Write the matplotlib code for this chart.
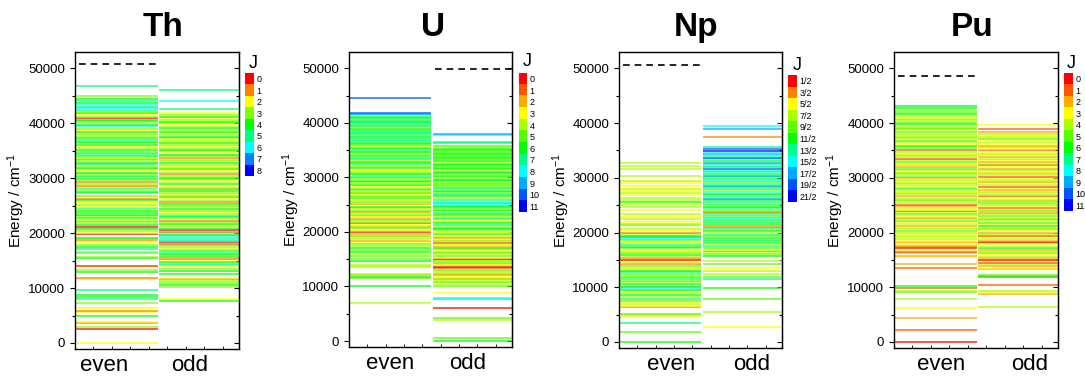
import numpy as np
import matplotlib
matplotlib.use("Agg")
import matplotlib.pyplot as plt
from matplotlib.colors import ListedColormap
from matplotlib.ticker import MultipleLocator

plt.rcParams['font.family'] = ['Liberation Sans', 'DejaVu Sans']
plt.rcParams['mathtext.fontset'] = 'custom'
plt.rcParams['mathtext.rm'] = 'Liberation Sans'
plt.rcParams['mathtext.it'] = 'Liberation Sans:italic'

# ---- level data: (energy in cm^-1, J) ----
th_even = [(0, 2), (2558, 0), (2869, 3), (3688, 1), (3865, 2), (4962, 4), (5563, 2), (5760, 1),
           (6362, 2), (7281, 3), (8080, 5), (8460, 4), (8800, 4), (9720, 5), (11600, 2), (11800, 1),
           (12850, 4), (13250, 3), (13950, 0), (14100, 1), (15440, 4), (15700, 3), (16350, 6),
           (16600, 3), (17150, 5), (17450, 4), (17900, 3), (18450, 2), (18700, 1), (19000, 3),
           (19200, 4), (19800, 0), (20000, 2), (20350, 3), (20700, 4), (21150, 0), (21500, 4),
           (21900, 3), (22200, 5), (22450, 2), (22750, 4), (23050, 3), (23350, 4), (23650, 4),
           (23950, 4), (24250, 3), (24500, 5), (24850, 2), (25150, 3), (25450, 2), (25750, 2),
           (26000, 4), (26250, 1), (26550, 2), (26850, 3), (27250, 6), (27550, 4), (27850, 3),
           (28150, 5), (28450, 2), (28650, 1), (28950, 3), (29250, 1), (29550, 3), (29850, 4),
           (30150, 3), (30450, 5), (30750, 3), (31050, 4), (31350, 2), (31650, 3), (31950, 4),
           (32250, 3), (32550, 5), (32850, 4), (33150, 3), (33450, 4), (33750, 2), (34050, 4),
           (34350, 5), (34600, 6), (34850, 3), (35150, 4), (35450, 3), (35750, 2), (36050, 4),
           (36350, 3), (36650, 4), (36950, 5), (37250, 4), (37550, 3), (37850, 2), (38150, 3),
           (38450, 4), (38750, 2), (39050, 3), (39450, 6), (39750, 4), (40050, 3), (40350, 5),
           (40650, 4), (40980, 0), (41250, 3), (41550, 2), (41850, 4), (42150, 3), (42450, 5),
           (42750, 6), (43050, 5), (43350, 6), (43650, 4), (44000, 5), (44350, 4), (44900, 3),
           (46850, 5)]
th_odd = [(7660, 4), (8090, 2), (10270, 3), (10500, 4), (10880, 3), (11200, 3), (11600, 1),
          (11800, 2), (12500, 4), (13130, 4), (13500, 3), (13950, 2), (14200, 3), (14410, 6),
          (14800, 4), (15150, 2), (15300, 1), (15600, 4), (16000, 3), (16250, 4), (16600, 5),
          (16950, 4), (17200, 2), (17500, 3), (17850, 5), (18100, 1), (18350, 0), (18600, 3),
          (18800, 6), (19100, 5), (19400, 6), (19700, 4), (20000, 6), (20300, 1), (20550, 0),
          (20800, 4), (21100, 3), (21400, 2), (21700, 4), (22000, 3), (22300, 1), (22600, 3),
          (22900, 4), (23200, 5), (23500, 3), (23800, 2), (24100, 3), (24400, 4), (24700, 2),
          (25000, 3), (25300, 4), (25600, 1), (25900, 3), (26200, 2), (26500, 4), (26800, 3),
          (27100, 2), (27400, 3), (27700, 4), (28000, 1), (28300, 3), (28600, 2), (28900, 4),
          (29200, 3), (29500, 2), (29800, 3), (30100, 4), (30400, 3), (30700, 1), (31000, 3),
          (31300, 2), (31600, 4), (31900, 3), (32200, 2), (32500, 3), (32800, 4), (33100, 2),
          (33400, 3), (33700, 1), (34000, 3), (34300, 4), (34600, 2), (34900, 3), (35200, 4),
          (35500, 3), (35800, 2), (36100, 3), (36400, 4), (36700, 3), (37000, 2), (37300, 3),
          (37600, 4), (37900, 3), (38200, 2), (38500, 4), (38800, 3), (39100, 4), (39400, 3),
          (39700, 2), (40000, 3), (40300, 4), (40600, 3), (40900, 2), (41200, 4), (41500, 3),
          (41800, 2), (42600, 5), (44100, 6), (46000, 5)]

u_even = [(7020, 4), (10010, 6), (11480, 5), (11750, 6), (12030, 2), (12300, 4), (13500, 4),
          (13700, 4), (13950, 4), (14750, 6), (15100, 5), (15600, 5), (15900, 4), (16250, 6),
          (16600, 5), (17100, 6), (17400, 4), (17800, 5), (18150, 3), (18400, 2), (18700, 4),
          (19000, 3), (19300, 5), (19600, 2), (19900, 0), (20150, 4), (20400, 3), (20650, 5),
          (20900, 2), (21150, 4), (21400, 3), (21650, 1), (21900, 4), (22150, 5), (22400, 2),
          (22650, 4), (22900, 3), (23150, 5), (23400, 4), (23650, 2), (23900, 5), (24150, 3),
          (24400, 4), (24650, 6), (24900, 3), (25150, 2), (25400, 5), (25650, 4), (25900, 3),
          (26150, 6), (26400, 4), (26650, 5), (26900, 3), (27150, 6), (27400, 4), (27650, 5),
          (27900, 7), (28150, 4), (28400, 3), (28650, 6), (28900, 5), (29150, 4), (29400, 6),
          (29650, 3), (29900, 5), (30150, 7), (30400, 4), (30650, 6), (30900, 5), (31150, 4),
          (31400, 3), (31650, 6), (31900, 5), (32150, 4), (32400, 7), (32650, 5), (32900, 6),
          (33150, 4), (33400, 5), (33650, 7), (33900, 6), (34150, 5), (34400, 4), (34650, 6),
          (34900, 7), (35150, 5), (35400, 6), (35650, 4), (35900, 7), (36150, 5), (36400, 6),
          (36650, 8), (36900, 7), (37150, 6), (37400, 5), (37650, 7), (37900, 6), (38150, 8),
          (38400, 7), (38650, 6), (38900, 7), (39150, 5), (39400, 6), (39650, 7), (39900, 6),
          (40150, 7), (40400, 6), (40650, 5), (40900, 7), (41150, 6), (41400, 8), (41650, 9),
          (41900, 10), (44570, 10)]
u_odd = [(0, 6), (620, 5), (3870, 4), (4280, 5), (5990, 0), (7700, 7), (7940, 8), (8850, 3),
         (10100, 5), (10350, 4), (10600, 3), (10850, 5), (11100, 4), (11350, 2), (11600, 4),
         (11850, 3), (12100, 5), (12350, 2), (12600, 4), (12850, 3), (13100, 5), (13350, 1),
         (13600, 0), (13850, 4), (14100, 3), (14350, 5), (14600, 2), (14850, 4), (15050, 0),
         (15300, 3), (15550, 5), (15800, 4), (16050, 2), (16300, 5), (16550, 3), (16800, 4),
         (17050, 6), (17300, 2), (17550, 4), (17800, 3), (18050, 1), (18300, 5), (18550, 4),
         (18800, 2), (19050, 5), (19300, 3), (19550, 6), (19800, 4), (20050, 3), (20300, 5),
         (20550, 7), (20800, 6), (21050, 4), (21300, 7), (21550, 5), (21800, 6), (22050, 3),
         (22300, 5), (22550, 7), (22800, 4), (23050, 6), (23300, 5), (23550, 7), (23800, 4),
         (24050, 6), (24300, 5), (24550, 7), (24800, 6), (25050, 8), (25300, 7), (25550, 8),
         (25800, 7), (26300, 4), (26550, 6), (26800, 5), (27050, 7), (27300, 5), (27550, 6),
         (27800, 4), (28050, 7), (28300, 5), (28550, 6), (28800, 4), (29050, 5), (29300, 7),
         (29550, 6), (29800, 5), (30050, 4), (30300, 6), (30550, 5), (30800, 7), (31050, 6),
         (31300, 4), (31550, 5), (31800, 6), (32050, 6), (32300, 5), (32550, 6), (32800, 4),
         (33050, 6), (33300, 6), (33550, 5), (33800, 6), (34050, 6), (34300, 5), (34550, 6),
         (34800, 6), (35050, 5), (35300, 6), (35550, 4), (35800, 5), (36300, 7), (36500, 7),
         (37800, 8), (38000, 9)]

np_even = [(0, 5.5), (1900, 4.5), (3400, 6.5), (4550, 2.5), (5000, 3.5), (5200, 4.5),
           (6400, 1.5), (6600, 2.5), (6900, 3.5), (7200, 2.5), (7550, 4.5), (7800, 6.5),
           (8200, 3.5), (8600, 5.5), (8900, 3.5), (9300, 2.5), (9550, 5.5), (9750, 7.5),
           (10050, 8.5), (10300, 4.5), (10600, 5.5), (10900, 3.5), (11200, 4.5), (11500, 6.5),
           (11800, 5.5), (12100, 3.5), (12400, 4.5), (12700, 6.5), (13000, 5.5), (13300, 3.5),
           (13600, 2.5), (13900, 4.5), (14200, 1.5), (14500, 3.5), (14800, 2.5), (15050, 0.5),
           (15300, 1.5), (15600, 3.5), (15900, 5.5), (16200, 4.5), (16500, 3.5), (16800, 2.5),
           (17100, 4.5), (17400, 5.5), (17700, 6.5), (18000, 3.5), (18300, 2.5), (18600, 4.5),
           (18900, 7.5), (19150, 8.5), (19400, 5.5), (19700, 3.5), (20000, 1.5), (20200, 2.5),
           (20700, 3.5), (21300, 4.5), (21600, 3.5), (22000, 2.5), (22400, 3.5), (22900, 2.5),
           (23300, 3.5), (24100, 2.5), (24600, 3.5), (25000, 3.5), (25500, 5.5), (26000, 3.5),
           (26400, 3.5), (26800, 2.5), (27200, 3.5), (27600, 2.5), (28000, 3.5), (28600, 2.5),
           (29000, 2.5), (29400, 3.5), (30300, 3.5), (31700, 3.5), (32200, 3.5), (32800, 3.5)]
np_odd = [(2800, 2.5), (5400, 3.5), (7800, 4.5), (9800, 5.5), (11600, 6.5), (11900, 4.5),
          (12500, 3.5), (13000, 3.5), (13600, 2.5), (14200, 4.5), (14800, 3.5), (15700, 5.5),
          (16000, 4.5), (16300, 3.5), (16600, 5.5), (16900, 2.5), (17200, 4.5), (17500, 6.5),
          (17800, 3.5), (18100, 5.5), (18400, 4.5), (18700, 6.5), (19000, 5.5), (19300, 4.5),
          (19600, 6.5), (19900, 3.5), (20200, 5.5), (20500, 4.5), (20800, 6.5), (21100, 1.5),
          (21400, 5.5), (21700, 4.5), (22000, 6.5), (22300, 5.5), (22600, 7.5), (22900, 4.5),
          (23200, 6.5), (23500, 5.5), (23800, 1.5), (24100, 4.5), (24400, 6.5), (24700, 5.5),
          (25000, 7.5), (25300, 4.5), (25600, 6.5), (25900, 5.5), (26200, 8.5), (26500, 6.5),
          (26800, 4.5), (27100, 5.5), (27400, 7.5), (27700, 3.5), (28000, 6.5), (28300, 5.5),
          (28600, 8.5), (28900, 6.5), (29200, 4.5), (29500, 7.5), (29800, 5.5), (30100, 6.5),
          (30400, 8.5), (30700, 5.5), (31000, 7.5), (31300, 6.5), (31600, 9.5), (31900, 5.5),
          (32200, 7.5), (32500, 6.5), (32800, 8.5), (33100, 5.5), (33400, 7.5), (33700, 9.5),
          (34000, 6.5), (34300, 8.5), (34600, 7.5), (34900, 10.5), (35200, 9.5), (35700, 6.5),
          (37450, 1.5), (38850, 8.5), (39500, 7.5)]

pu_even = [(0, 0), (2200, 1), (4300, 2), (6150, 3), (7770, 4), (9200, 5), (9400, 4), (9780, 1),
           (10200, 6), (13550, 1), (14300, 2), (15600, 3), (15800, 2), (16200, 2), (16500, 1),
           (16800, 3), (17100, 0), (17350, 1), (17600, 2), (17900, 3), (18200, 2), (18500, 3),
           (18800, 4), (19100, 3), (19400, 4), (19700, 3), (20000, 4), (20300, 5), (20600, 3),
           (20900, 4), (21200, 2), (21500, 4), (21800, 3), (22100, 5), (22400, 4), (22700, 2),
           (23000, 3), (23300, 5), (23600, 4), (23900, 1), (24200, 3), (24500, 4), (24800, 2),
           (25100, 1), (25400, 4), (25700, 3), (26000, 5), (26300, 4), (26600, 2), (26900, 4),
           (27200, 5), (27500, 3), (27800, 4), (28100, 6), (28400, 3), (28700, 4), (29000, 5),
           (29300, 3), (29600, 4), (29900, 2), (30200, 5), (30500, 4), (30800, 6), (31100, 3),
           (31400, 4), (31700, 5), (32000, 2), (32300, 4), (32600, 3), (32900, 5), (33200, 4),
           (33500, 1), (33800, 4), (34100, 5), (34400, 3), (34700, 4), (35000, 1), (35300, 5),
           (35600, 4), (35900, 6), (36200, 3), (36500, 4), (36800, 5), (37100, 4), (37400, 6),
           (37700, 3), (38000, 4), (38300, 5), (38600, 4), (38900, 2), (39200, 5), (39500, 4),
           (39800, 6), (40100, 5), (40400, 4), (40700, 5), (41000, 3), (41300, 4), (41600, 6),
           (41900, 5), (42300, 5), (42700, 6), (43200, 6)]
pu_odd = [(6330, 4), (8760, 2), (9200, 3), (9400, 4), (10500, 1), (11800, 1), (12100, 6),
          (12300, 5), (13300, 2), (13600, 3), (13900, 2), (14200, 4), (14500, 1), (14800, 3),
          (15050, 0), (15300, 2), (15600, 4), (15900, 3), (16200, 5), (16500, 4), (16800, 2),
          (17100, 6), (17400, 4), (17700, 3), (18000, 5), (18200, 0), (18500, 2), (18800, 4),
          (19100, 3), (19400, 1), (19700, 4), (20000, 2), (20300, 3), (20600, 5), (20900, 4),
          (21200, 6), (21500, 3), (21800, 5), (22100, 4), (22400, 6), (22700, 3), (23000, 5),
          (23300, 4), (23600, 2), (23900, 5), (24200, 4), (24500, 1), (24800, 3), (25100, 4),
          (25400, 5), (25700, 2), (26000, 4), (26300, 3), (26600, 1), (26900, 4), (27200, 3),
          (27500, 4), (27800, 2), (28100, 3), (28400, 1), (28700, 4), (29000, 3), (29300, 2),
          (29600, 4), (29900, 3), (30200, 1), (30500, 4), (30800, 2), (31100, 3), (31400, 4),
          (31700, 2), (32000, 3), (32300, 1), (32600, 4), (32900, 2), (33200, 3), (33500, 4),
          (33800, 2), (34100, 3), (34400, 4), (34700, 3), (35000, 1), (35300, 3), (35600, 4),
          (35900, 2), (36200, 3), (36500, 4), (36800, 3), (37100, 5), (37400, 4), (37700, 3),
          (38000, 4), (38300, 2), (38900, 1), (39700, 3)]

# ionization potentials (cm^-1) and which column the dashed line sits in
ip_values = {'Th': 50867, 'U': 49958, 'Np': 50535, 'Pu': 48601}
ip_column = {'Th': 'even', 'U': 'odd', 'Np': 'even', 'Pu': 'even'}

j_int_9 = ['0', '1', '2', '3', '4', '5', '6', '7', '8']
j_int_12 = ['0', '1', '2', '3', '4', '5', '6', '7', '8', '9', '10', '11']
j_half = ['1/2', '3/2', '5/2', '7/2', '9/2', '11/2', '13/2', '15/2', '17/2', '19/2', '21/2']

# colour scales
pal_th = ['#ff0000', '#ff8000', '#ffff00', '#80ff00', '#00ff00', '#00ff80', '#00ffff', '#0080ff', '#0000ff']
pal_12 = ['#ff0000', '#ff5500', '#ffaa00', '#ffff00', '#aaff00', '#55ff00', '#00ff00', '#00ff88',
          '#00ffff', '#00aaff', '#0055ff', '#0000ff']
pal_np = ['#ff0000', '#ff8000', '#ffff00', '#aaff00', '#55ff00', '#00ff00', '#00ff88', '#00ffff',
          '#00aaff', '#0055ff', '#0000ff']

W, H = 1085, 381
def px(x0, y0, x1, y1):
    return [x0 / W, 1 - y1 / H, (x1 - x0) / W, (y1 - y0) / H]

panels = [
    dict(name='Th', even=th_even, odd=th_odd, labels=j_int_9, pal=pal_th, off=0,
         rect=px(75, 52, 239, 349), crect=px(245, 73, 254, 176), jpos=(253, 64),
         tpos=163, xl=(0.35, 1.40)),
    dict(name='U', even=u_even, odd=u_odd, labels=j_int_12, pal=pal_12, off=0,
         rect=px(349, 52, 512, 347), crect=px(519, 73, 527, 212), jpos=(527, 62),
         tpos=433, xl=(0.50, 1.45)),
    dict(name='Np', even=np_even, odd=np_odd, labels=j_half, pal=pal_np, off=0.5,
         rect=px(619, 52, 782, 348), crect=px(788, 75, 797, 202), jpos=(797, 65),
         tpos=696, xl=(0.64, 1.63)),
    dict(name='Pu', even=pu_even, odd=pu_odd, labels=j_int_12, pal=pal_12, off=0,
         rect=px(894, 52, 1058, 348), crect=px(1064, 73, 1073, 211), jpos=(1071, 63),
         tpos=972, xl=(0.575, 1.66)),
]

fig = plt.figure(figsize=(10.85, 3.81), dpi=100)

for p in panels:
    ax = fig.add_axes(p['rect'])
    for levels, x0, x1 in ((p['even'], 0.0, 1.01), (p['odd'], 1.03, 2.0)):
        E = [e for e, j in levels]
        cols = [p['pal'][int(round(j - p['off']))] for e, j in levels]
        ax.hlines(E, x0, x1, colors=cols, lw=1.4, alpha=0.68)
    if ip_column[p['name']] == 'even':
        ax.hlines(ip_values[p['name']], 0.05, 1.0, colors='k', lw=1.2, linestyles=(0, (4, 3)))
    else:
        ax.hlines(ip_values[p['name']], 1.05, 2.0, colors='k', lw=1.2, linestyles=(0, (4, 3)))

    ax.set_xlim(0, 2)
    ax.set_ylim(-1100, 53000)
    yt = [0, 10000, 20000, 30000, 40000, 50000]
    ax.set_yticks(yt)
    ax.yaxis.set_minor_locator(MultipleLocator(5000))
    ax.tick_params(axis='y', which='both', direction='out', labelsize=9.5, length=3.5, width=0.8)
    ax.tick_params(axis='y', which='minor', length=2)
    # inward ticks on the right spine
    sec = ax.secondary_yaxis('right')
    sec.set_yticks(yt)
    sec.yaxis.set_minor_locator(MultipleLocator(5000))
    sec.tick_params(which='both', direction='in', length=3.5, width=0.8, labelright=False)
    sec.tick_params(which='minor', length=2)

    ax.set_xticks(list(p['xl']))
    ax.set_xticklabels(['even', 'odd'], fontsize=16)
    ax.xaxis.set_minor_locator(MultipleLocator(0.225))
    ax.tick_params(axis='x', which='major', length=0, pad=4)
    ax.tick_params(axis='x', which='minor', direction='in', length=2.5, top=False)
    for s in ax.spines.values():
        s.set_linewidth(1.0)
    ax.set_ylabel('Energy / cm$^{-1}$', fontsize=11)
    ax.yaxis.set_label_coords(-0.29, 0.5)

    fig.text(p['tpos'] / W, 1 - 36 / H, p['name'], fontsize=24, fontweight='bold',
             ha='center', va='baseline')

    cax = fig.add_axes(p['crect'])
    n = len(p['labels'])
    cax.imshow(np.arange(n).reshape(-1, 1), cmap=ListedColormap(p['pal']), aspect='auto',
               interpolation='nearest')
    cax.set_xticks([])
    cax.set_yticks(range(n))
    cax.set_yticklabels(p['labels'], fontsize=6.5)
    cax.yaxis.tick_right()
    cax.tick_params(axis='y', length=0, pad=2)
    for s in cax.spines.values():
        s.set_visible(False)
    fig.text(p['jpos'][0] / W, 1 - p['jpos'][1] / H, 'J', fontsize=13, ha='center', va='center')

fig.savefig('out.png', dpi=100)
